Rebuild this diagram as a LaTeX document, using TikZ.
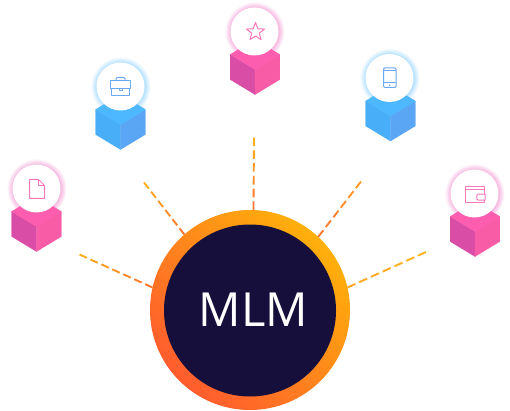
\documentclass[tikz,border=0pt]{standalone}
\usepackage{fontspec}
\setmainfont{Open Sans}
\usetikzlibrary{calc}
\definecolor{pinkTop}{HTML}{FC5DAE}
\definecolor{pinkLeft}{HTML}{D94DA6}
\definecolor{pinkRight}{HTML}{F95CA6}
\definecolor{blueTop}{HTML}{4DB8FF}
\definecolor{blueLeft}{HTML}{49AEF8}
\definecolor{blueRight}{HTML}{5AA6F5}
\definecolor{pinkIcon}{HTML}{FA78BC}
\definecolor{blueIcon}{HTML}{6AAAF4}
\definecolor{hubDark}{HTML}{160F3C}
\definecolor{ringLow}{HTML}{FF5C2E}
\definecolor{ringHigh}{HTML}{FFB00A}
\definecolor{glowP}{HTML}{F6B8E0}
\definecolor{glowB}{HTML}{B4E0FF}
\definecolor{spokeAmber}{HTML}{FFAE1C}
\definecolor{spokeOrange}{HTML}{FF9A26}
\definecolor{spokeRed}{HTML}{FF7630}
\definecolor{spokeGold}{HTML}{FFB41E}
\definecolor{spokeMid}{HTML}{FFA524}
\pgfdeclareradialshading{glowpink}{\pgfpoint{0bp}{0bp}}{color(0bp)=(glowP); color(20bp)=(glowP); color(25bp)=(white); color(50bp)=(white)}
\pgfdeclareradialshading{glowblue}{\pgfpoint{0bp}{0bp}}{color(0bp)=(glowB); color(20bp)=(glowB); color(25bp)=(white); color(50bp)=(white)}
\tikzset{
  x=1pt,y=-1pt,
  hubring/.style={circle,inner sep=0pt,outer sep=0pt,minimum size=200pt,bottom color=ringLow,top color=ringHigh,shading angle=-45},
  hubcore/.style={circle,inner sep=0pt,outer sep=0pt,minimum size=172pt,fill=hubDark},
  hubtext/.style={text=white,font=\fontsize{47pt}{47pt}\selectfont,inner sep=0pt},
  badge/.style={circle,fill=white,inner sep=0pt,outer sep=0pt,minimum size=48pt},
  iconline/.style={line width=1pt,line join=round,fill=none},
}
\newcommand{\cubeat}[5]{%
  \begin{scope}[shift={(#1,#2)}]
    \fill[#4,draw=#4,line width=0.3pt,line join=round] (-24.8,23)--(0,38)--(0,63)--(-24.8,48)--cycle;
    \fill[#5,draw=#5,line width=0.3pt,line join=round] (24.8,23)--(0,38)--(0,63)--(24.8,48)--cycle;
    \fill[#3,draw=#3,line width=0.3pt,line join=round] (0,8)--(24.8,23)--(0,38)--(-24.8,23)--cycle;
  \end{scope}}
% dashed connector whose colour runs from #4 at the free end to #5 at the hub
\newcommand{\spokeline}[5]{%
  \foreach \i in {1,...,#3}{%
    \pgfmathsetmacro{\ta}{(\i-1)/(#3-0.32)}%
    \pgfmathsetmacro{\tb}{(\i-0.32)/(#3-0.32)}%
    \pgfmathsetmacro{\pc}{100*(\i-1)/(#3-1)}%
    \colorlet{segcol}{#5!\pc!#4}%
    \draw[segcol,line width=1.9pt] ($(#1)!\ta!(#2)$) -- ($(#1)!\tb!(#2)$);
  }}
\begin{document}
\begin{tikzpicture}
\useasboundingbox (0,0) rectangle (510,411);
\fill[white] (0,0) rectangle (510,411);

\coordinate (endA) at (79.5,254.5);
\coordinate (endB) at (144,182.5);
\coordinate (endC) at (254,137.5);
\coordinate (endD) at (361,181.5);
\coordinate (endE) at (426,252);

\node[hubring] (hub) at (250,310) {};
\node[hubcore] (core) at (250,310.5) {};
\node[hubtext] (label) at (253.5,310) {MLM};

\spokeline{endA}{hub.167}{7}{spokeAmber}{spokeRed}
\spokeline{endB}{hub.131}{6}{spokeAmber}{spokeRed}
\spokeline{endC}{hub.88}{6}{spokeAmber}{spokeRed}
\spokeline{endD}{hub.47}{6}{spokeOrange}{spokeRed}
\spokeline{endE}{hub.13}{7}{spokeGold}{spokeMid}

% document
\shade[shading=glowpink] (36.5,188.5) circle (30);
\cubeat{36.5}{188.5}{pinkTop}{pinkLeft}{pinkRight}
\node[badge] (docB) at (36.5,188.5) {};
\begin{scope}[shift={(36.5,188.5)},pinkIcon]
  \draw[iconline] (-7,-9)--(2,-9)--(8,-3)--(8,10)--(-7,10)--cycle;
  \draw[iconline] (2,-9)--(2,-3)--(8,-3);
\end{scope}

% briefcase
\shade[shading=glowblue] (120.5,86.5) circle (30);
\cubeat{120.5}{86.5}{blueTop}{blueLeft}{blueRight}
\node[badge] (caseB) at (120.5,86.5) {};
\begin{scope}[shift={(120.5,86.5)},blueIcon]
  \draw[iconline] (-10,-5.5) rectangle (10,2.5);
  \draw[iconline] (-9,2.5)--(-9,9.5)--(9,9.5)--(9,2.5);
  \draw[iconline] (-4.5,-5.5)--(-4.5,-8)--(-3,-9)--(3,-9)--(4.5,-8)--(4.5,-5.5);
  \draw[iconline] (-1.5,2.5) rectangle (1.5,4.5);
\end{scope}

% star
\shade[shading=glowpink] (254.5,31.5) circle (30);
\cubeat{255}{31.5}{pinkTop}{pinkLeft}{pinkRight}
\node[badge] (starB) at (254.5,31.5) {};
\begin{scope}[shift={(255.5,32)},pinkIcon]
  \draw[iconline] (270:9.5)--(306:4)--(342:9.5)--(18:4)--(54:9.5)--(90:4)--(126:9.5)--(162:4)--(198:9.5)--(234:4)--cycle;
\end{scope}

% phone
\shade[shading=glowblue] (389.5,78) circle (30);
\cubeat{390.5}{78}{blueTop}{blueLeft}{blueRight}
\node[badge] (phoneB) at (389.5,78) {};
\begin{scope}[shift={(389.5,78)},blueIcon]
  \draw[iconline,rounded corners=1.2pt] (-6,-10) rectangle (6.5,9.5);
  \draw[iconline] (-6,-7.5)--(6.5,-7.5);
  \draw[iconline] (-6,5)--(6.5,5);
  \fill (0.2,7.2) circle (0.8);
\end{scope}

% wallet
\shade[shading=glowpink] (474.5,193.5) circle (30);
\cubeat{475}{193.5}{pinkTop}{pinkLeft}{pinkRight}
\node[badge] (walletB) at (474.5,193.5) {};
\begin{scope}[shift={(474.5,193.5)},pinkIcon]
  \draw[iconline] (9.8,0.7)--(9.8,-6.7)--(-9.3,-6.7)--(-9.3,9)--(9.8,9)--(9.8,6.7);
  \draw[iconline] (-9.3,-4)--(9.8,-4);
  \draw[iconline] (10.7,0.7)--(3.5,0.7)--(2.3,2)--(2.3,5.5)--(3.5,6.7)--(10.7,6.7)--cycle;
\end{scope}
\end{tikzpicture}
\end{document}
